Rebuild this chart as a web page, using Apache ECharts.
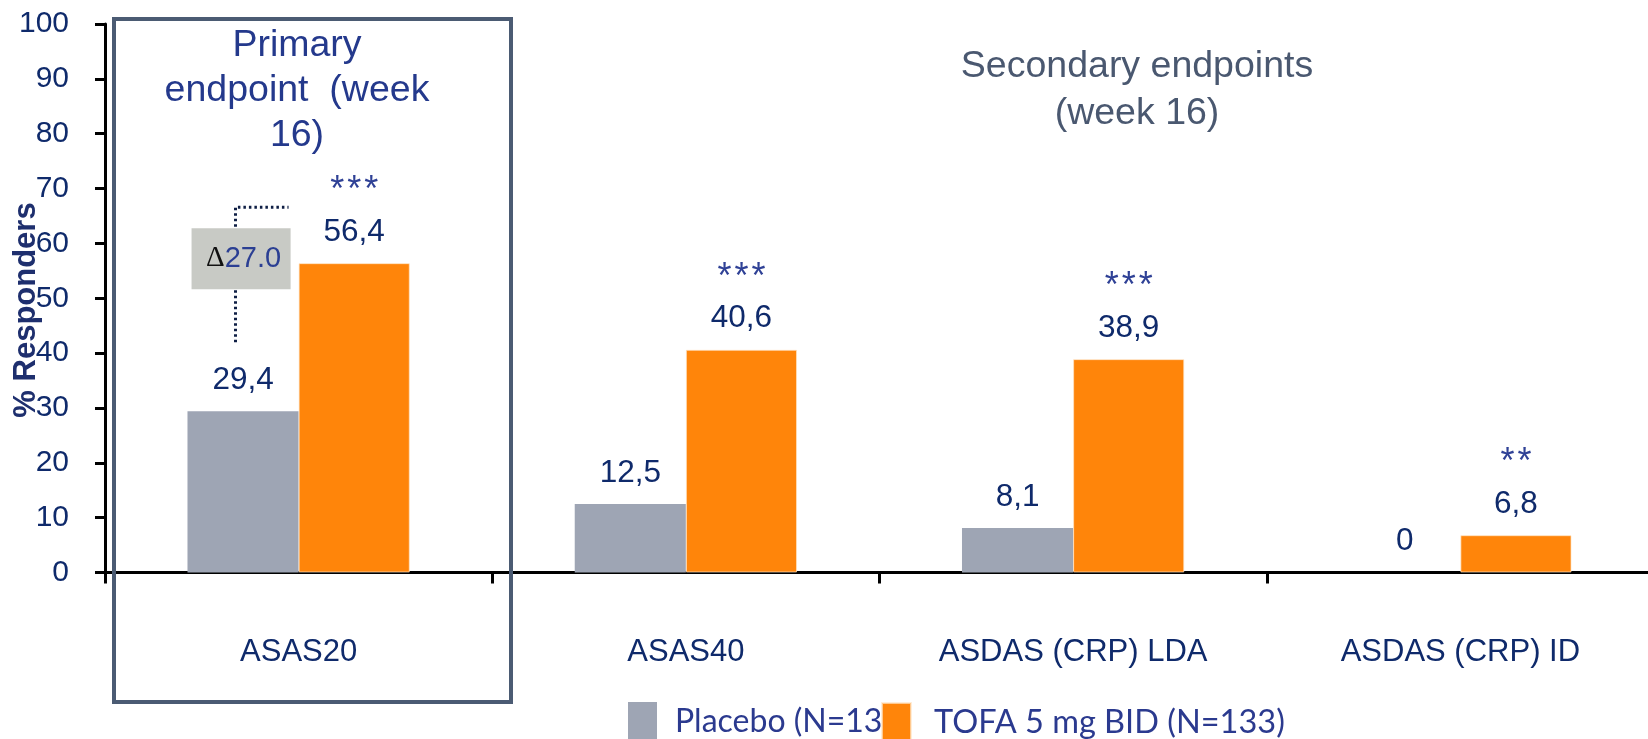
<!DOCTYPE html>
<html>
<head>
<meta charset="utf-8">
<script src="https://cdn.jsdelivr.net/npm/echarts@6/dist/echarts.min.js"></script>
<style>
html,body{margin:0;padding:0;background:#fff;}
#chart{width:1648px;height:739px;}
</style>
</head>
<body>
<div id="chart"></div>
<script>
// ---- data ----
const categories = ['ASAS20', 'ASAS40', 'ASDAS (CRP) LDA', 'ASDAS (CRP) ID'];
const seriesNames = ['Placebo (N=136)', 'TOFA 5 mg BID (N=133)'];
const placebo = [29.4, 12.5, 8.1, 0];
const tofa = [56.4, 40.6, 38.9, 6.8];
const significance = ['***', '***', '***', '**'];
const yMin = 0, yMax = 100, yStep = 10;
const primaryTitle = 'Primary\nendpoint  (week\n16)';
const secondaryTitle = 'Secondary endpoints\n(week 16)';
const yAxisTitle = '% Responders';
const deltaIndex = 0;

// ---- style ----
const FONT = '"Liberation Sans", Arial, sans-serif';
const NAVY = '#0f2a6b';
const GRAY = '#9ea5b4';
const ORANGE = '#ff850a';

function fmt(v) { return v === 0 ? '0' : v.toFixed(1).replace('.', ','); }

const valueRich = {
  v: { fontFamily: FONT, fontSize: 31.5, lineHeight: 36, color: NAVY },
  s: { fontFamily: FONT, fontSize: 36, lineHeight: 46, color: '#2f4196' }
};

function renderDelta(params, api) {
  const cat = api.value(0), lo = api.value(1), hi = api.value(2);
  const pLo = api.coord([cat, lo]);
  const pHi = api.coord([cat, hi]);
  const bw = api.size([1, 0])[0];
  const cx = pLo[0];
  const lx = cx - bw * 0.163;
  const yBottom = pLo[1] - 69;
  const yTop = pHi[1] - 56;
  const xEnd = cx - bw * 0.026;
  const bL = cx - bw * 0.2765, bR = cx - bw * 0.0207;
  const bC = pHi[1] - 4.5;
  const delta = (hi - lo).toFixed(1);
  return {
    type: 'group',
    children: [
      { type: 'polyline', shape: { points: [[lx, yBottom], [lx, yTop], [xEnd, yTop]] },
        style: { stroke: '#0f1f45', lineWidth: 3, lineDash: [2.5, 3], fill: null } },
      { type: 'rect', shape: { x: bL, y: bC - 30.5, width: bR - bL, height: 61 },
        style: { fill: '#c8cac5' } },
      { type: 'text', x: (bL + bR) / 2 + 2.5, y: bC,
        style: { text: '{d|Δ}{n|' + delta + '}', align: 'center', verticalAlign: 'middle',
          rich: { d: { fontFamily: '"Liberation Serif", serif', fontSize: 29, fill: '#111' },
                  n: { fontFamily: FONT, fontSize: 29, fill: '#2b3f93' } } } }
    ]
  };
}

const chart = echarts.init(document.getElementById('chart'), null, { renderer: 'canvas' });
chart.setOption({
  animation: false,
  backgroundColor: '#fff',
  grid: { left: 105, width: 1549, top: 24, bottom: 166.5, containLabel: false, outerBoundsMode: 'none' },
  legend: [
    { data: [seriesNames[0]], left: 628, top: 702, padding: 0, itemWidth: 29, itemHeight: 40,
      icon: 'rect', selectedMode: false,
      textStyle: { fontFamily: 'Lato, sans-serif', fontSize: 32, color: '#2b3a8f', padding: [0, 0, 0, 13] } },
    { data: [seriesNames[1]], left: 881, top: 702, padding: 0, itemWidth: 29, itemHeight: 40,
      icon: 'rect', selectedMode: false,
      textStyle: { fontFamily: 'Lato, sans-serif', fontSize: 32.5, color: '#2b3a8f', padding: [0, 0, 0, 18] } }
  ],
  xAxis: {
    type: 'category',
    data: categories,
    axisLine: { lineStyle: { color: '#000', width: 3 } },
    axisTick: { show: true, length: 11, lineStyle: { color: '#000', width: 3 } },
    axisLabel: { fontFamily: FONT, fontSize: 31, color: NAVY, margin: 64 }
  },
  yAxis: {
    type: 'value', min: yMin, max: yMax, interval: yStep,
    splitLine: { show: false },
    axisLine: { show: true, lineStyle: { color: '#000', width: 3 } },
    axisTick: { show: true, length: 10, lineStyle: { color: '#000', width: 3 } },
    axisLabel: { fontFamily: FONT, fontSize: 30, color: NAVY, margin: 36, align: 'right' }
  },
  series: [
    { name: seriesNames[0], type: 'bar', data: placebo, barGap: '0%', barCategoryGap: '42.6%',
      itemStyle: { color: GRAY },
      label: { show: true, position: 'top', distance: 13, rich: valueRich,
        formatter: p => '{v|' + fmt(p.value) + '}' } },
    { name: seriesNames[1], type: 'bar', data: tofa, barGap: '0%', barCategoryGap: '42.6%',
      itemStyle: { color: ORANGE, borderColor: 'rgba(255,230,200,0.7)', borderWidth: 1 },
      label: { show: true, position: 'top', distance: 13, rich: valueRich,
        formatter: p => '{s|' + significance[p.dataIndex].split('').join('\u200A') + '}\n{v|' + fmt(p.value) + '}' } },
    { type: 'custom', z: 5, clip: false, renderItem: renderDelta,
      data: [[deltaIndex, placebo[deltaIndex], tofa[deltaIndex]]], silent: true }
  ],
  graphic: [
    { type: 'rect', z: 100, shape: { x: 114, y: 19, width: 397, height: 683 },
      style: { fill: null, stroke: '#4b5b73', lineWidth: 4 } },
    { type: 'text', z: 100, x: 297, y: 91,
      style: { text: primaryTitle, font: '37.5px ' + FONT, fill: '#24398c', align: 'center', verticalAlign: 'middle', lineHeight: 45 } },
    { type: 'text', z: 100, x: 1137, y: 90,
      style: { text: secondaryTitle, font: '37.5px ' + FONT, fill: '#4a5870', align: 'center', verticalAlign: 'middle', lineHeight: 47 } },
    { type: 'text', z: 100, x: 26, y: 310, rotation: Math.PI / 2,
      style: { text: yAxisTitle, font: 'bold 31px ' + FONT, fill: '#1e2f6e', align: 'center', verticalAlign: 'middle' } }
  ]
});
</script>
</body>
</html>
